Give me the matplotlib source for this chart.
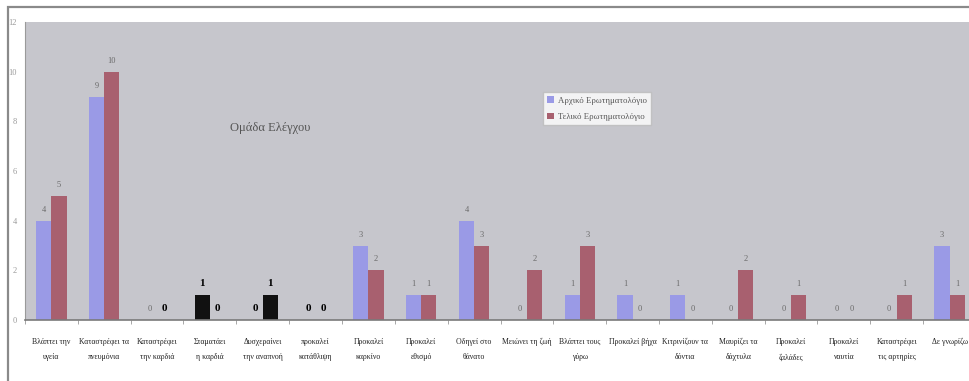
import matplotlib
matplotlib.use("Agg")
import matplotlib.pyplot as plt
import numpy as np
from matplotlib.patches import Rectangle

categories = [
    "Βλάπτει την\nυγεία",
    "Καταστρέφει τα\nπνευμόνια",
    "Καταστρέφει\nτην καρδιά",
    "Σταματάει\nη καρδιά",
    "Δυσχεραίνει\nτην αναπνοή",
    "προκαλεί\nκατάθλιψη",
    "Προκαλεί\nκαρκίνο",
    "Προκαλεί\nεθισμό",
    "Οδηγεί στο\nθάνατο",
    "Μειώνει τη ζωή",
    "Βλάπτει τους\nγύρω",
    "Προκαλεί βήχα",
    "Κιτρινίζουν τα\nδόντια",
    "Μαυρίζει τα\nδάχτυλα",
    "Προκαλεί\nζαλάδες",
    "Προκαλεί\nναυτία",
    "Καταστρέφει\nτις αρτηρίες",
    "Δε γνωρίζω",
]
initial = [4, 9, 0, 1, 0, 0, 3, 1, 4, 0, 1, 1, 1, 0, 0, 0, 0, 3]
final = [5, 10, 0, 0, 1, 0, 2, 1, 3, 2, 3, 0, 0, 2, 1, 0, 1, 1]
series_names = ["Αρχικό Ερωτηματολόγιο", "Τελικό Ερωτηματολόγιο"]
chart_title = "Ομάδα Ελέγχου"
y_ticks = [0, 2, 4, 6, 8, 10, 12]

# value labels printed in heavy black type (category index, series index)
bold_labels = {(2, 1), (3, 0), (3, 1), (4, 0), (4, 1), (5, 0), (5, 1)}
# bars rendered as solid dark blocks
dark_bars = {(3, 0), (4, 1)}

serif = ["Liberation Serif", "DejaVu Serif"]
plt.rcParams["font.family"] = serif

W, H = 969, 381
fig = plt.figure(figsize=(W / 100, H / 100), dpi=100)
fig.patch.set_facecolor("white")

# outer chart frame
fig.patches.append(Rectangle((8 / W, -0.05), 1.05, 1 - 7 / H + 0.05,
                             transform=fig.transFigure, fill=False,
                             edgecolor="#8a8a8a", linewidth=1.6, zorder=0))

left, right = 25 / W, 976 / W
bottom, top = 1 - 320 / H, 1 - 22 / H
ax = fig.add_axes([left, bottom, right - left, top - bottom])
ax.set_facecolor("#c6c6cc")

x = np.arange(len(categories))
bw = 1 / 3.5
blue, red = "#9a9ae6", "#a8606f"
series = [initial, final]
cols = [blue, red]
for s, (vals, col) in enumerate(zip(series, cols)):
    offs = (s - 0.5) * bw
    colors = ["#111111" if (i, s) in dark_bars else col for i in range(len(vals))]
    ax.bar(x + offs, vals, bw, color=colors, label=series_names[s], zorder=2)
    for i, v in enumerate(vals):
        if (i, s) in bold_labels:
            ax.annotate(str(v), (x[i] + offs, v), xytext=(0, 5),
                        textcoords="offset points", ha="center", va="bottom",
                        fontsize=8, fontweight="bold", color="#000000")
        else:
            ax.annotate(str(v), (x[i] + offs, v), xytext=(0, 5),
                        textcoords="offset points", ha="center", va="bottom",
                        fontsize=6, color="#6a6a6a")

ax.set_xlim(-0.5, len(categories) - 0.5)
ax.set_ylim(0, 12)
ax.set_yticks(y_ticks)
ax.set_yticklabels([str(t) for t in y_ticks], fontsize=6, color="#9a9a9a")
ax.tick_params(axis="y", length=0, pad=6)

ax.set_xticks(x)
ax.set_xticklabels(categories, fontsize=5.6, color="#222222", linespacing=2.2)
ax.set_xticks(np.arange(len(categories) + 1) - 0.5, minor=True)
ax.tick_params(axis="x", which="major", length=0, pad=13)
ax.tick_params(axis="x", which="minor", length=3, color="#999999")

for side in ["top", "right"]:
    ax.spines[side].set_visible(False)
ax.spines["left"].set_color("#9a9a9a")
ax.spines["bottom"].set_color("#7a7a7a")
ax.spines["bottom"].set_linewidth(1.2)

ax.text(0.258, 0.644, chart_title, transform=ax.transAxes, ha="center",
        va="center", fontsize=9, color="#555555")

leg = ax.legend(loc="upper left", bbox_to_anchor=(0.54, 0.78), fontsize=6.3,
                frameon=True, fancybox=False, edgecolor="#bbbbbb",
                handlelength=0.8, handleheight=0.8, handletextpad=0.4,
                borderpad=0.5, labelspacing=0.9)
leg.get_frame().set_facecolor("white")
for t in leg.get_texts():
    t.set_color("#555555")

fig.savefig("out.png", dpi=100)
